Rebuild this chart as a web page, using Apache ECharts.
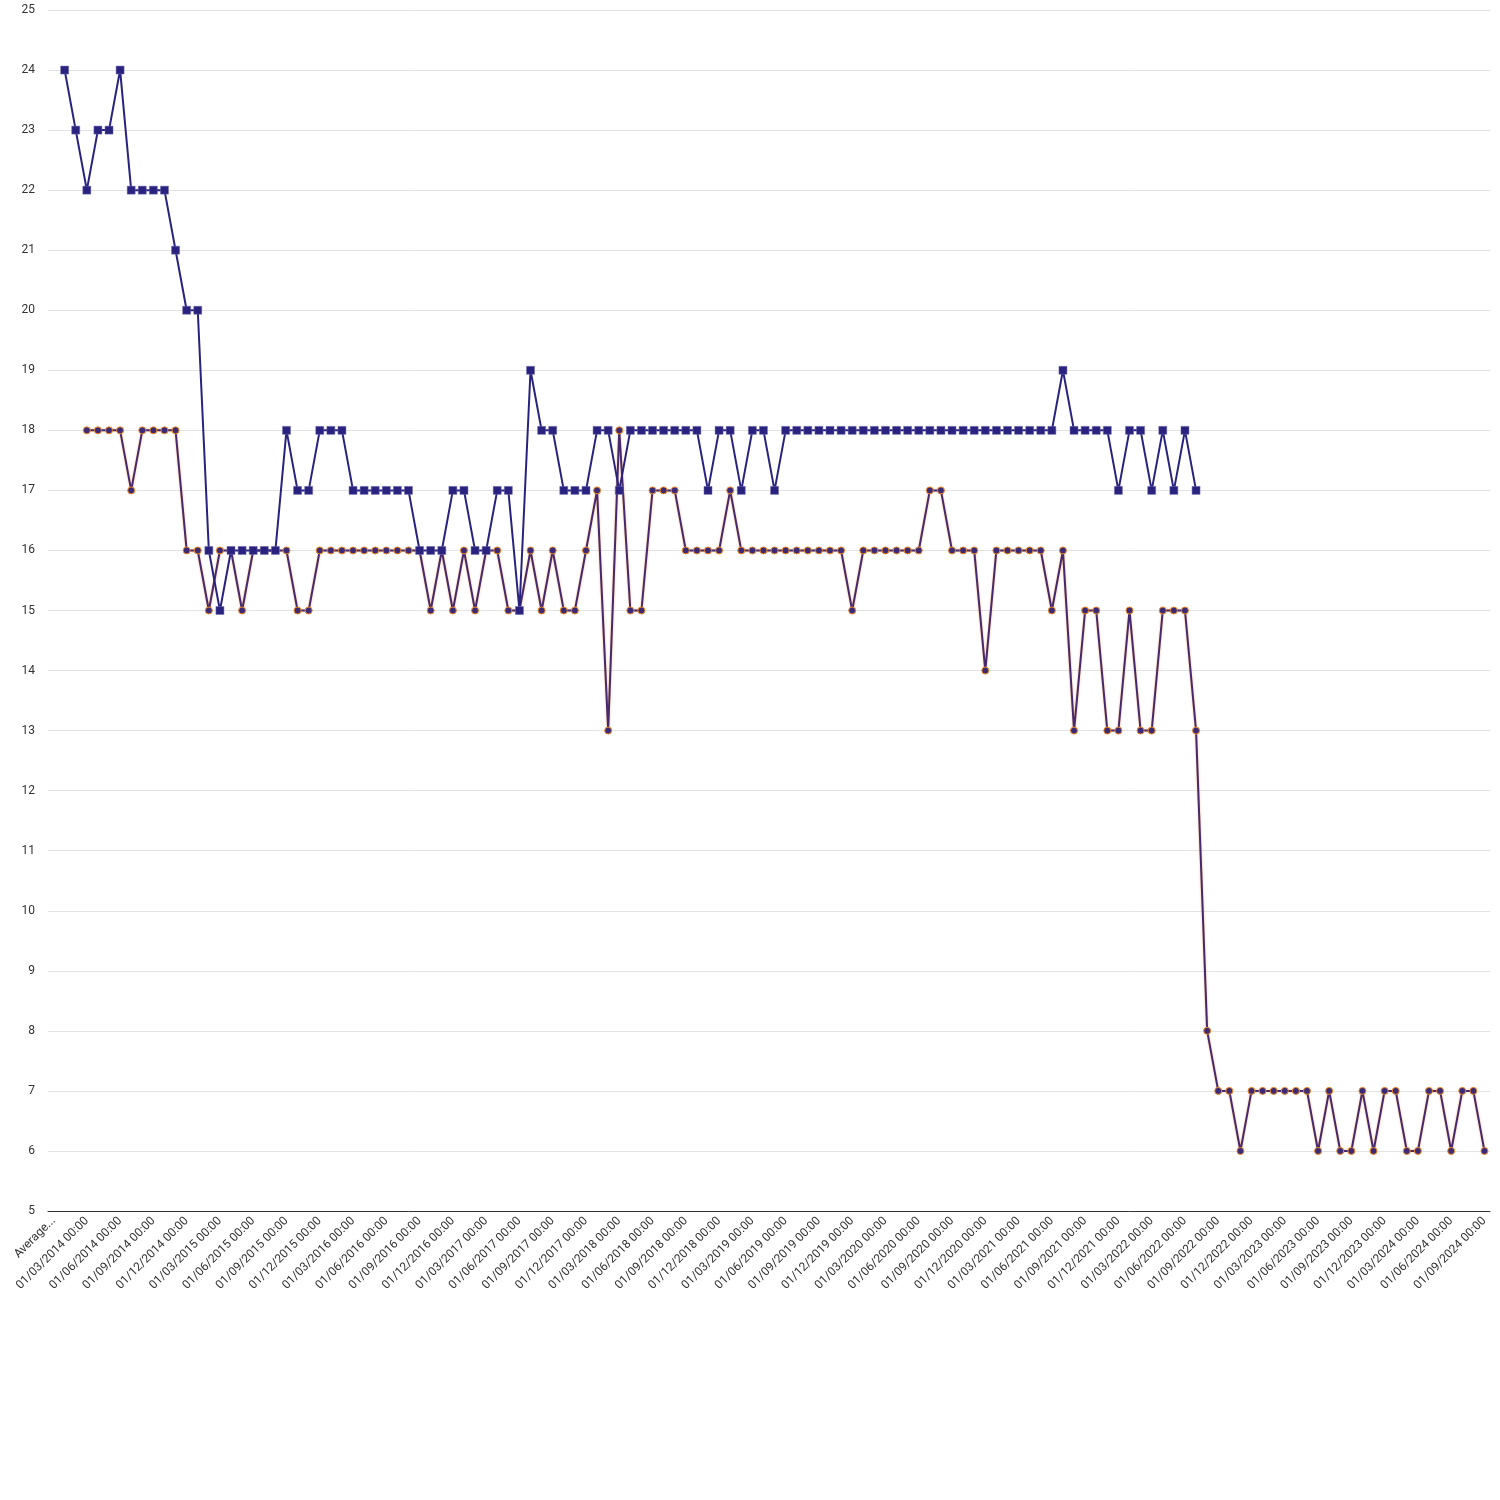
<!DOCTYPE html>
<html lang="en">
<head>
    <meta charset="UTF-8">
    <title>Chart</title>
    <script src="https://cdn.jsdelivr.net/npm/echarts@6/dist/echarts.min.js"></script>
    <style>
        html, body { margin: 0; padding: 0; background: #fff; }
    </style>
</head>
<body>
    <div id="main" style="width:1500px;height:1500px;"></div>

    <script>
        // first category is the average, then one category per month from 01/01/2014
        const firstLabel = 'Average...';
        const startYear = 2014;
        const monthCount = 129;

        // y axis
        const yMin = 5;
        const yMax = 25;
        const yStep = 1;

        // blue series (squares), index 0 = Average
        const blueValues = [
            null, 24, 23, 22, 23, 23, 24, 22, 22, 22, 22, 21, 20, 20, 16, 15, 16, 16, 16, 16,
            16, 18, 17, 17, 18, 18, 18, 17, 17, 17, 17, 17, 17, 16, 16, 16, 17, 17, 16, 16,
            17, 17, 15, 19, 18, 18, 17, 17, 17, 18, 18, 17, 18, 18, 18, 18, 18, 18, 18, 17,
            18, 18, 17, 18, 18, 17, 18, 18, 18, 18, 18, 18, 18, 18, 18, 18, 18, 18, 18, 18,
            18, 18, 18, 18, 18, 18, 18, 18, 18, 18, 18, 19, 18, 18, 18, 18, 17, 18, 18, 17,
            18, 17, 18, 17
        ];

        // orange series (circles)
        const orangeValues = [
            null, null, null, 18, 18, 18, 18, 17, 18, 18, 18, 18, 16, 16, 15, 16, 16, 15, 16, 16,
            16, 16, 15, 15, 16, 16, 16, 16, 16, 16, 16, 16, 16, 16, 15, 16, 15, 16, 15, 16,
            16, 15, 15, 16, 15, 16, 15, 15, 16, 17, 13, 18, 15, 15, 17, 17, 17, 16, 16, 16,
            16, 17, 16, 16, 16, 16, 16, 16, 16, 16, 16, 16, 15, 16, 16, 16, 16, 16, 16, 17,
            17, 16, 16, 16, 14, 16, 16, 16, 16, 16, 15, 16, 13, 15, 15, 13, 13, 15, 13, 13,
            15, 15, 15, 13, 8, 7, 7, 6, 7, 7, 7, 7, 7, 7, 6, 7, 6, 6, 7, 6,
            7, 7, 6, 6, 7, 7, 6, 7, 7, 6
        ];

        const categories = [firstLabel];
        for (let m = 0; m < monthCount; m++) {
            const y = startYear + Math.floor(m / 12);
            const mm = String(m % 12 + 1).padStart(2, '0');
            categories.push('01/' + mm + '/' + y + ' 00:00');
        }

        const option = {
            backgroundColor: '#fff',
            animation: false,
            textStyle: { fontFamily: 'Roboto' },
            grid: {
                left: 48,
                right: 10,
                top: 10,
                bottom: 289,
                containLabel: false
            },
            xAxis: {
                type: 'category',
                data: categories,
                boundaryGap: true,
                axisLine: { show: true, lineStyle: { color: '#333', width: 1 } },
                axisTick: { show: false },
                axisLabel: {
                    interval: 2,
                    rotate: 45,
                    margin: 8,
                    color: '#333',
                    fontSize: 12,
                    fontFamily: 'Roboto'
                },
                splitLine: { show: false }
            },
            yAxis: {
                type: 'value',
                min: yMin,
                max: yMax,
                interval: yStep,
                axisLine: { show: false },
                axisTick: { show: false },
                axisLabel: {
                    margin: 13,
                    color: '#333',
                    fontSize: 12,
                    fontFamily: 'Roboto'
                },
                splitLine: { lineStyle: { color: '#e3e3e3', width: 1 } }
            },
            series: [
                {
                    name: 'orange',
                    type: 'line',
                    data: orangeValues,
                    connectNulls: false,
                    showAllSymbol: true,
                    symbol: 'circle',
                    symbolSize: 7,
                    lineStyle: {
                        color: '#46296e',
                        width: 2,
                        shadowColor: 'rgba(240,130,30,0.6)',
                        shadowBlur: 2
                    },
                    itemStyle: {
                        color: '#3b2a78',
                        borderColor: '#f08a24',
                        borderWidth: 1
                    },
                    z: 2
                },
                {
                    name: 'blue',
                    type: 'line',
                    data: blueValues,
                    connectNulls: false,
                    showAllSymbol: true,
                    symbol: 'rect',
                    symbolSize: 8,
                    lineStyle: { color: '#29237f', width: 2 },
                    itemStyle: {
                        color: '#29237f',
                        borderColor: '#6f6bb0',
                        borderWidth: 0.5
                    },
                    z: 3
                }
            ]
        };

        var myChart = echarts.init(document.getElementById('main'));
        myChart.setOption(option);
    </script>
</body>
</html>
